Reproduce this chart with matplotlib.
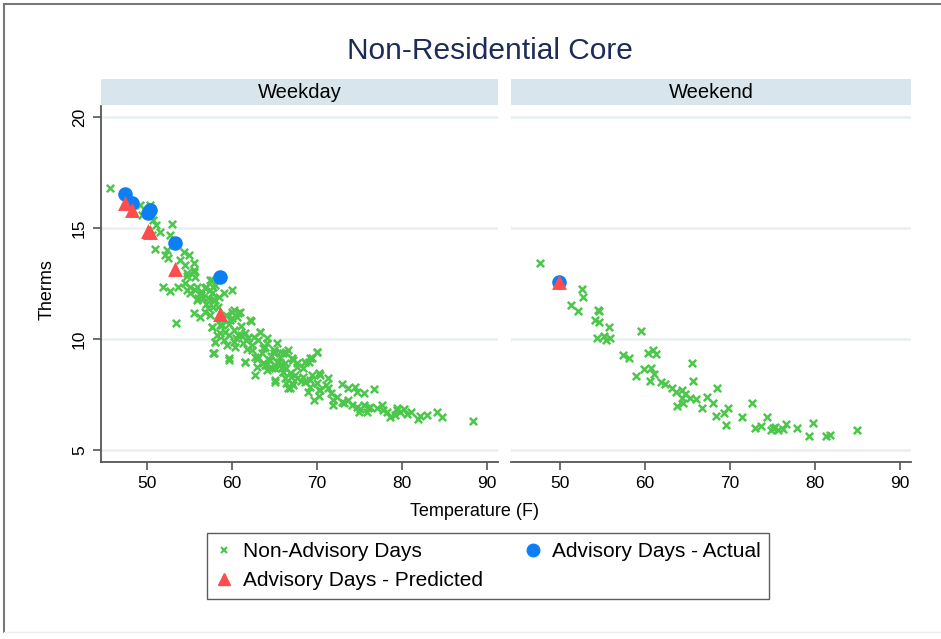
import matplotlib
matplotlib.use("Agg")
import matplotlib.pyplot as plt
from matplotlib import font_manager
from matplotlib.lines import Line2D
from matplotlib.patches import Rectangle

# --- data: weekday, non-advisory days (temperature F, therms) ---
wd_temp = [45.7, 49.2, 50.4, 49.4, 50.7, 51.1, 52.9, 51.5, 50.6, 52.7, 50.9, 52.3, 52.1, 54.3, 52.5,
           53.9, 54.9, 54.5, 55.5, 54.7, 55.7, 51.9, 52.7, 53.7, 54.7, 55.1, 55.9, 56.4, 57.0, 57.4,
           58.0, 55.5, 54.7, 55.5, 54.5, 55.1, 55.7, 57.4, 57.8, 59.0, 60.0, 55.9, 56.6, 57.8, 57.6,
           57.8, 56.8, 55.5, 56.2, 60.2, 60.7, 60.0, 62.1, 57.6, 58.8, 58.2, 59.2, 60.2, 61.1, 63.3,
           58.0, 59.0, 60.2, 61.7, 62.3, 64.1, 65.3, 57.8, 59.6, 61.5, 62.7, 63.5, 64.3, 62.9, 63.9,
           64.7, 65.7, 65.7, 66.4, 66.6, 67.6, 68.4, 69.0, 64.9, 65.7, 66.4, 70.0, 69.4, 68.6, 65.3,
           66.2, 67.2, 67.6, 66.0, 66.8, 65.1, 66.4, 67.2, 66.8, 68.4, 69.2, 70.2, 70.0, 71.3, 70.4,
           69.6, 70.2, 72.9, 73.7, 74.5, 74.7, 75.5, 76.7, 71.9, 72.9, 73.7, 71.9, 74.7, 75.5, 76.2,
           77.0, 74.9, 75.9, 77.8, 78.6, 79.4, 77.6, 79.4, 79.8, 80.2, 79.2, 81.1, 82.1, 82.9, 81.9,
           84.1, 84.7, 88.4, 57.6, 56.8, 56.0, 57.2, 58.0, 58.4, 57.2, 57.4, 60.0, 60.9, 60.6, 59.8,
           62.2, 57.6, 58.6, 58.6, 59.6, 60.7, 61.5, 61.9, 63.3, 63.1, 64.1, 58.0, 59.4, 60.4, 61.3,
           62.3, 63.9, 64.9, 66.0, 57.9, 59.6, 61.5, 63.1, 63.7, 64.5, 65.5, 67.0, 68.6, 69.2, 70.0,
           62.7, 64.1, 65.1, 66.0, 65.1, 66.2, 67.0, 66.6, 67.6, 68.6, 69.4, 70.4, 69.2, 70.2, 71.1,
           71.3, 53.4, 56.3, 56.9, 58.5, 59.3, 61.0, 62.6, 63.6, 64.6, 65.9, 67.4, 68.1, 71.6, 72.3,
           73.2, 74.1, 75.0, 76.0, 78.2, 80.6, 59.7, 58.9, 60.5, 61.8, 62.9, 64.0, 66.9, 68.9]
wd_therms = [16.79, 16.04, 16.04, 15.59, 15.36, 15.14, 15.18, 14.83, 14.68, 14.68, 14.04, 14.01, 13.78, 13.93, 13.64,
             13.56, 13.78, 13.33, 13.11, 12.84, 12.81, 12.36, 12.18, 12.33, 12.21, 12.06, 12.36, 11.98, 12.36, 12.66,
             12.43, 13.41, 12.96, 13.03, 12.51, 12.36, 12.21, 12.21, 12.36, 12.06, 12.21, 11.76, 11.83, 11.76, 12.06,
             11.46, 11.23, 11.16, 11.00, 11.31, 11.16, 10.93, 10.86, 10.55, 10.63, 10.18, 10.33, 10.41, 10.18, 10.33,
             9.88, 9.95, 9.88, 9.95, 9.73, 9.81, 9.81, 9.36, 9.13, 8.98, 9.20, 9.36, 9.05, 8.75, 8.83,
             8.68, 9.20, 8.83, 8.68, 9.50, 8.91, 8.68, 8.98, 9.36, 9.43, 9.36, 9.40, 9.13, 8.98, 8.98,
             8.91, 9.05, 8.75, 8.53, 8.45, 8.15, 8.00, 7.93, 7.78, 8.30, 8.15, 8.45, 8.00, 7.78, 7.70,
             7.25, 7.43, 7.97, 7.78, 7.85, 7.63, 7.58, 7.73, 7.25, 7.18, 7.25, 7.03, 6.95, 7.03, 6.95,
             6.88, 6.73, 6.73, 6.80, 6.50, 6.80, 7.03, 6.88, 6.73, 6.83, 6.58, 6.73, 6.53, 6.58, 6.38,
             6.73, 6.50, 6.32, 12.66, 12.28, 11.83, 11.83, 11.76, 11.45, 11.38, 11.08, 11.23, 11.23, 11.00, 10.86,
             10.81, 10.53, 10.63, 10.26, 10.18, 10.18, 10.26, 10.03, 10.30, 9.95, 10.03, 9.88, 9.73, 9.65, 9.81,
             9.50, 9.65, 9.50, 9.36, 9.36, 9.05, 8.95, 9.20, 8.91, 9.05, 8.98, 9.13, 8.95, 9.13, 9.40,
             8.38, 8.60, 8.68, 8.53, 8.08, 8.23, 8.00, 7.78, 8.23, 8.08, 8.38, 8.38, 7.85, 7.70, 7.93,
             8.23, 10.72, 12.10, 11.60, 11.90, 11.10, 10.60, 10.10, 9.60, 9.25, 8.70, 8.40, 8.10, 7.55, 7.40,
             7.10, 7.05, 6.85, 6.90, 6.70, 6.62, 10.70, 10.95, 10.05, 9.55, 9.10, 8.85, 8.30, 7.60]

# --- weekday advisory days ---
wd_adv_temp = [47.4, 48.2, 50.15, 50.35, 53.3, 58.6]
wd_adv_actual = [16.53, 16.11, 15.69, 15.83, 14.31, 12.81]
wd_adv_pred = [16.14, 15.81, 14.88, 14.84, 13.15, 11.13]

# --- weekend, non-advisory days ---
we_temp = [47.65, 52.55, 52.74, 51.29, 52.15, 54.51, 54.59, 54.12, 54.62, 55.80, 59.49, 54.32, 55.18, 55.41, 55.88,
           57.45, 58.15, 60.35, 60.91, 61.29, 58.94, 59.92, 60.67, 61.09, 60.59, 61.85, 62.35, 63.14, 65.49, 65.61,
           63.65, 64.32, 64.71, 64.32, 64.51, 63.73, 65.29, 66.00, 68.51, 67.26, 67.96, 66.67, 68.35, 69.29, 69.80,
           69.53, 72.55, 71.38, 74.32, 72.94, 73.61, 75.02, 75.29, 74.79, 75.68, 76.59, 76.27, 77.85, 79.80, 79.33,
           81.29, 81.76, 84.94]
we_therms = [13.44, 12.25, 11.88, 11.53, 11.27, 11.31, 11.26, 10.84, 10.77, 10.55, 10.37, 10.05, 10.14, 9.95, 10.06,
             9.28, 9.13, 9.37, 9.50, 9.32, 8.33, 8.64, 8.68, 8.42, 8.11, 8.08, 7.97, 7.81, 8.93, 8.12,
             7.63, 7.70, 7.52, 7.33, 7.13, 6.98, 7.36, 7.31, 7.81, 7.37, 7.13, 6.89, 6.53, 6.67, 6.89,
             6.11, 7.10, 6.50, 6.47, 5.98, 6.08, 5.98, 6.02, 5.90, 5.90, 6.17, 5.93, 5.99, 6.22, 5.63,
             5.63, 5.68, 5.90]

# --- weekend advisory day ---
we_adv_temp = [49.9]
we_adv_actual = [12.57]
we_adv_pred = [12.55]

x_ticks = [50, 60, 70, 80, 90]
y_ticks = [5, 10, 15, 20]

GREEN = "#4cc74c"
BLUE = "#0d7ff5"
RED = "#ff4d4d"
STRIP = "#d9e5ec"
GRID = "#e8eef2"
AXIS = "#555555"

names = {f.name for f in font_manager.fontManager.ttflist}
narrow = "Liberation Sans Narrow" if "Liberation Sans Narrow" in names else "Liberation Sans"
plt.rcParams["font.family"] = ["Liberation Sans", "DejaVu Sans"]

W, H = 941, 639
fig = plt.figure(figsize=(W / 100, H / 100), dpi=100)


def fx(px):
    return px / W


def fy(py):
    return 1 - py / H


# outer frame
fig.add_artist(Line2D([fx(4), fx(4)], [fy(4), fy(632)], color="#777777", lw=1.5))
fig.add_artist(Line2D([fx(4), fx(941)], [fy(4), fy(4)], color="#777777", lw=1.5))
fig.add_artist(Line2D([fx(4), fx(941)], [fy(632), fy(632)], color="#eeeeee", lw=1.0))

top, bot = 106, 462
ax1 = fig.add_axes([fx(101), fy(bot), (498 - 101) / W, (bot - top) / H])
ax2 = fig.add_axes([fx(511), fy(bot), (911 - 511) / W, (bot - top) / H])

panels = [
    (ax1, wd_temp, wd_therms, wd_adv_temp, wd_adv_actual, wd_adv_pred, (44.59, 91.29)),
    (ax2, we_temp, we_therms, we_adv_temp, we_adv_actual, we_adv_pred, (44.24, 91.29)),
]

for ax, xt, yt, at, aa, ap, xl in panels:
    ax.scatter(xt, yt, marker="x", s=28, color=GREEN, linewidths=1.8, zorder=3)
    ax.scatter(at, aa, marker="o", s=110, color=BLUE, linewidths=0, zorder=4)
    ax.scatter(at, ap, marker="^", s=115, color=RED, linewidths=0, zorder=5)
    ax.set_xlim(*xl)
    ax.set_ylim(4.46, 20.5)
    ax.set_xticks(x_ticks)
    ax.set_yticks(y_ticks)
    for y in y_ticks:
        ax.axhline(y, color=GRID, lw=1.8, zorder=1)
    for s in ["top", "right", "left"]:
        ax.spines[s].set_visible(False)
    ax.spines["bottom"].set_color(AXIS)
    ax.spines["bottom"].set_linewidth(1.3)
    ax.tick_params(axis="x", length=6, width=1.2, color=AXIS, labelsize=12.5, pad=4)
    ax.tick_params(axis="y", length=6, width=1.2, color=AXIS, labelsize=12.5, pad=4)

ax1.spines["left"].set_visible(True)
ax1.spines["left"].set_color(AXIS)
ax1.spines["left"].set_linewidth(1.3)
for lab in ax1.get_yticklabels():
    lab.set_rotation(90)
    lab.set_va("center")
ax2.tick_params(axis="y", left=False, labelleft=False)

# strips
for x0, x1, label in [(101, 498, "Weekday"), (511, 911, "Weekend")]:
    fig.add_artist(Rectangle((fx(x0), fy(105)), (x1 - x0) / W, 26 / H,
                             facecolor=STRIP, edgecolor="none"))
    fig.text(fx((x0 + x1) / 2), fy(92), label, ha="center", va="center",
             fontsize=14.5, family=narrow)

fig.text(fx(490), fy(51), "Non-Residential Core", ha="center", va="center",
         fontsize=21.5, color="#1c2b58", family=narrow)
fig.text(fx(475), fy(511), "Temperature (F)", ha="center", va="center", fontsize=13)
fig.text(fx(47), fy(290), "Therms", ha="center", va="center", rotation=90, fontsize=13)

handles = [
    Line2D([], [], ls="none", marker="x", color=GREEN, markersize=5, markeredgewidth=1.5),
    Line2D([], [], ls="none", marker="^", color=RED, markersize=9),
    Line2D([], [], ls="none", marker="o", color=BLUE, markersize=9),
]
labels = ["Non-Advisory Days", "Advisory Days - Predicted", "Advisory Days - Actual"]
leg = fig.legend(handles, labels, ncol=2, loc="center", bbox_to_anchor=(fx(488), fy(566)),
                 fontsize=15, frameon=True, fancybox=False, edgecolor="#333333",
                 handlelength=0.8, handletextpad=0.5, columnspacing=2.0, labelspacing=0.5,
                 borderpad=0.4)
leg.get_frame().set_linewidth(1.0)

fig.savefig("out.png", dpi=100)
